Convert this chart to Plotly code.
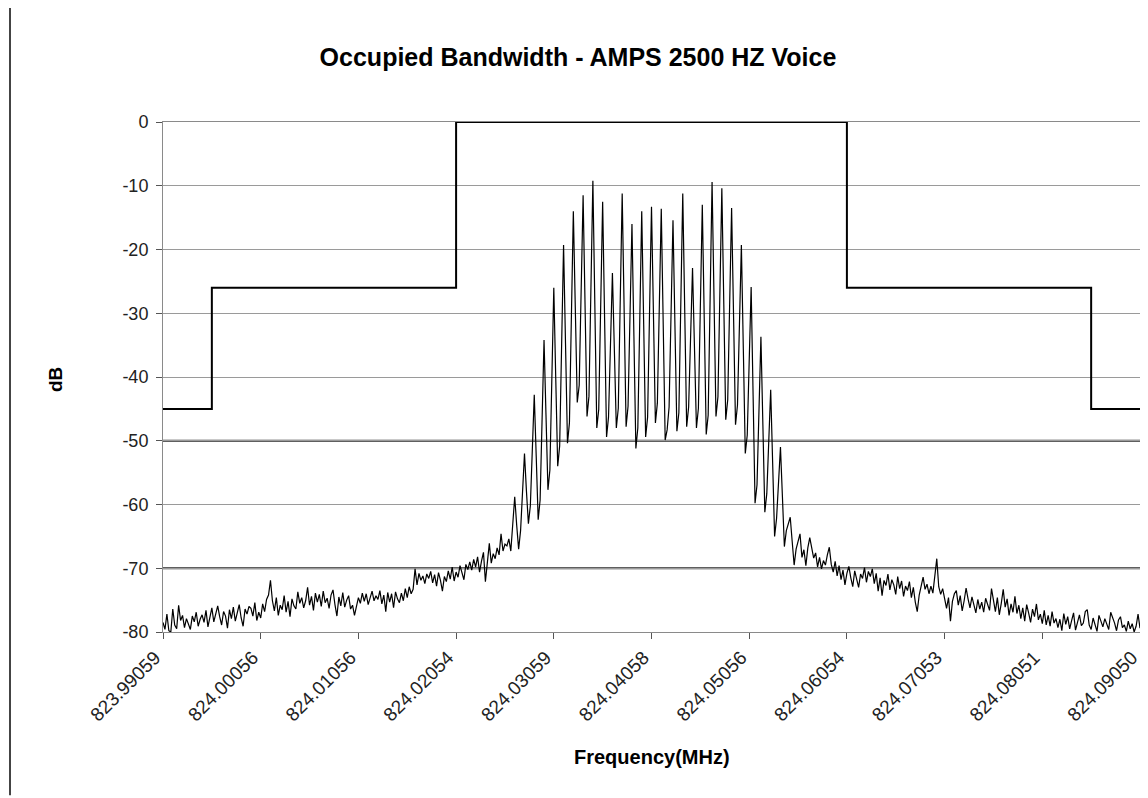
import plotly.graph_objects as go

# frequency labels shown every 50 sweep points (501 points in the sweep)
tick_pos = [0, 50, 100, 150, 200, 250, 300, 350, 400, 450, 500]
tick_labels = ['823.99059', '824.00056', '824.01056', '824.02054', '824.03059',
               '824.04058', '824.05056', '824.06054', '824.07053', '824.08051',
               '824.09050']
db_ticks = [0, -10, -20, -30, -40, -50, -60, -70, -80]
db_labels = ['0', '-10', '-20', '-30', '-40', '-50', '-60', '-70', '-80']

floor_left = [
    -78.5, -79.6, -77.2, -79.8, -80.0, -76.4, -78.9, -79.5, -75.8, -78.2,
    -77.4, -79.3, -77.9, -78.8, -79.6, -77.5, -78.4, -76.9, -79.1, -78.0,
    -77.3, -78.5, -76.6, -79.2, -77.8, -76.2, -78.4, -77.1, -75.9, -77.6,
    -78.9, -76.8, -77.5, -79.4, -76.5, -77.9, -76.1, -78.3, -77.0, -75.7,
    -77.8, -79.1, -76.4, -77.2, -76.0,
    -76.3, -77.5, -75.4, -78.2, -76.9, -77.8, -75.6, -76.8, -74.9, -74.2,
    -71.9, -75.1, -76.7, -74.6, -77.4, -75.8, -76.5, -74.3, -76.9, -75.2,
    -77.6, -74.8, -75.9, -76.4, -73.7, -75.5,
    -74.6, -76.2, -75.1, -73.0, -75.8, -74.4, -76.6, -73.9, -75.3, -74.1,
    -76.0, -73.6, -75.4, -74.7, -76.3, -74.2, -73.4, -75.7, -77.5, -74.5,
    -75.9, -73.8, -76.1, -75.0, -74.3, -76.4,
]
shoulder_left = [
    -75.8, -77.4, -76.1, -74.6, -75.5, -73.9, -75.2, -74.0, -75.7, -74.4,
    -73.6, -75.1, -74.3, -74.9, -73.5, -75.6, -74.2, -76.8, -73.8, -75.3,
    -74.0, -76.2, -73.7, -74.8, -75.4,
    -73.9, -75.1, -73.2, -74.6, -72.9, -74.0, -73.3, -70.1, -72.6, -70.8,
    -71.9, -71.2, -72.4, -70.9,
    -71.6, -70.5, -72.3, -71.0, -72.8, -70.7, -71.9, -73.6, -71.3, -72.1,
    -70.4, -71.7, -69.8, -72.0, -70.6, -71.4, -69.6, -70.9, -71.8, -69.4,
    -70.2,
    -69.0, -70.3, -68.6, -69.8, -68.2, -70.6, -68.9, -67.5, -72.1, -68.4,
    -66.1, -69.2, -67.7, -68.5, -66.8, -67.9, -64.6, -67.3, -66.2,
]
voice_band = [
    -66.5, -65.4, -67.3, -63.1,
    -58.8, -63.2, -67.0, -64.1, -58.3,
    -52.0, -57.9, -63.0, -60.2, -51.7,
    -42.8, -52.4, -62.4, -59.3, -46.8,
    -34.2, -45.9, -57.7, -54.6, -40.3,
    -26.0, -40.2, -54.0, -50.8, -35.1,
    -19.3, -34.8, -50.4, -47.2, -30.6,
    -14.0, -29.1, -44.0, -41.3, -26.4,
    -11.5, -28.8, -46.2, -43.0, -26.1,
    -9.2, -28.6, -48.0, -45.1, -28.8,
    -12.5, -30.9, -49.4, -46.3, -35.0,
    -23.7, -35.8, -48.0, -44.9, -28.1,
    -11.2, -29.5, -47.8, -44.6, -30.3,
    -16.0, -33.6, -51.2, -48.0, -31.0,
    -14.0, -31.7, -49.4, -46.3, -29.8,
    -13.3, -30.2, -47.2, -44.1, -28.9,
    -13.6, -31.8, -49.9, -48.3, -44.7, -30.1,
    -15.4, -32.0, -48.5, -45.6, -28.4,
    -11.2, -29.5, -47.8, -44.7, -33.8,
    -22.9, -35.5, -48.0, -44.9, -29.0,
    -13.0, -31.0, -49.0, -46.0, -27.7,
    -9.4, -27.8, -46.2, -43.1, -26.8,
    -10.4, -28.6, -46.7, -43.6, -28.6,
    -13.5, -30.5, -47.5, -44.4, -31.9,
    -19.3, -35.7, -52.0, -49.1, -37.5,
    -25.9, -42.9, -59.8, -56.9, -45.3,
    -33.7, -47.5, -61.2, -58.3, -50.2,
    -42.0, -53.5, -65.0, -62.2, -56.6,
    -51.0, -58.8, -66.6, -64.1, -63.0,
    -62.0, -65.8, -69.5, -67.0, -65.9,
    -64.6, -68.3, -67.1, -69.6, -66.8,
]
shoulder_right = [
    -65.2, -66.9, -68.4, -67.6, -69.8, -68.3, -70.1, -68.8, -69.5, -67.9,
    -66.7, -69.4, -70.6, -68.9, -71.2,
    -69.6, -71.8, -70.3, -72.6, -70.8, -69.7, -71.5, -72.9, -70.4, -71.7,
    -73.0, -70.9, -71.6, -69.9, -72.2, -70.5, -71.3, -70.1,
    -72.4, -70.8, -73.6, -71.5, -74.3, -71.9, -72.7, -70.9, -73.4, -71.8,
    -72.6, -74.1, -71.3, -73.2, -72.0, -74.4, -72.8, -73.5,
    -72.1, -74.6, -73.0, -75.3, -76.8, -74.2, -72.7, -71.4, -73.3, -72.5,
    -74.0,
    -72.8, -73.9, -71.6, -68.5, -72.9, -74.1, -73.2, -75.0, -76.3, -74.6,
    -78.3, -75.2, -74.0, -73.5, -75.8, -74.3, -76.7, -75.1,
]
floor_right = [
    -73.1, -74.8, -76.2, -74.5, -75.9, -77.0, -74.9, -76.4, -75.3, -76.9,
    -74.7, -75.8, -76.6,
    -73.2, -75.4, -76.8, -74.6, -77.3, -75.5, -73.3, -76.1, -74.8, -77.4,
    -75.6, -76.9, -74.4, -77.1,
    -75.8, -77.9, -76.2, -78.3, -75.7, -77.0, -78.5, -76.4, -77.6, -75.6,
    -78.1, -77.2, -78.7,
    -76.6, -78.9, -77.4, -79.1, -76.8, -78.6, -77.9, -79.3, -78.0, -79.8,
    -77.1, -78.8, -77.6,
    -79.5, -78.2, -77.0, -79.7, -78.4, -77.3, -79.0, -78.6, -76.8, -76.5,
    -78.9, -79.6, -77.8, -78.7, -79.9, -77.4, -78.5,
    -79.2, -77.9, -78.8, -79.6, -76.9, -77.7, -78.6, -79.8, -78.1, -77.6,
    -79.3, -78.9, -79.9, -78.3, -79.5, -78.7, -80.0, -79.1, -77.2, -79.4,
]
spectrum = floor_left + shoulder_left + voice_band + shoulder_right + floor_right

# emission mask breakpoints (sweep point, dB)
mask_x = [0, 25, 25, 150, 150, 350, 350, 475, 475, 500]
mask_y = [-45, -45, -26, -26, 0, 0, -26, -26, -45, -45]

font = 'Liberation Sans, Arial, sans-serif'

fig = go.Figure()
fig.add_trace(go.Scatter(y=spectrum, mode='lines', line=dict(color='black', width=1.2),
                         showlegend=False, hoverinfo='skip'))
fig.add_trace(go.Scatter(x=mask_x, y=mask_y, mode='lines', line=dict(color='black', width=2),
                         showlegend=False, hoverinfo='skip'))

# darker grid lines at -50 and -70 like the original
for lvl in [-50, -70]:
    fig.add_shape(type='line', xref='paper', yref='y', x0=0, x1=1, y0=lvl, y1=lvl,
                  line=dict(color='#2a2a2a', width=2), layer='between')
# frame line on the left of the picture
fig.add_shape(type='line', xref='paper', yref='paper', x0=-0.1566, x1=-0.1566,
              y0=1.3, y1=-0.32, line=dict(color='#444444', width=2))

# page body has an 8px margin, so the figure is 8px smaller and shifted
fig.update_layout(
    width=1140, height=790,
    margin=dict(l=155, r=8, t=114, b=166),
    paper_bgcolor='white', plot_bgcolor='white',
    title=dict(text='<b>Occupied Bandwidth - AMPS 2500 HZ Voice</b>', x=0.5, xanchor='center',
               y=1 - 49 / 790, yanchor='middle', font=dict(family=font, size=25, color='black')),
    xaxis=dict(range=[0, 500], tickmode='array', tickvals=tick_pos, ticktext=tick_labels,
               tickangle=-45, ticks='outside', ticklen=6, tickcolor='#555555',
               ticklabeloverflow='allow', ticklabelshift=-8,
               showgrid=False, zeroline=False, showline=True, linecolor='#8a8a8a', linewidth=1,
               mirror=True, automargin=False,
               tickfont=dict(family=font, size=19, color='#222222')),
    yaxis=dict(range=[-80, 0], tickmode='array', tickvals=db_ticks, ticktext=db_labels,
               ticks='outside', ticklen=6, tickcolor='#555555', ticklabelstandoff=4,
               showgrid=True, gridcolor='#9a9a9a', gridwidth=1, zeroline=False,
               showline=True, linecolor='#8a8a8a', linewidth=1, mirror=True, automargin=False,
               tickfont=dict(family=font, size=18, color='#222222')),
    annotations=[
        dict(text='<b>Frequency(MHz)</b>', xref='paper', yref='paper', x=0.5, y=-0.245,
             showarrow=False, xanchor='center', yanchor='middle',
             font=dict(family=font, size=20, color='black')),
        dict(text='<b>dB</b>', xref='paper', yref='paper', x=-0.1105, y=0.494, textangle=-90,
             showarrow=False, xanchor='center', yanchor='middle',
             font=dict(family=font, size=19, color='black')),
    ],
)

fig.write_html('out.html')
